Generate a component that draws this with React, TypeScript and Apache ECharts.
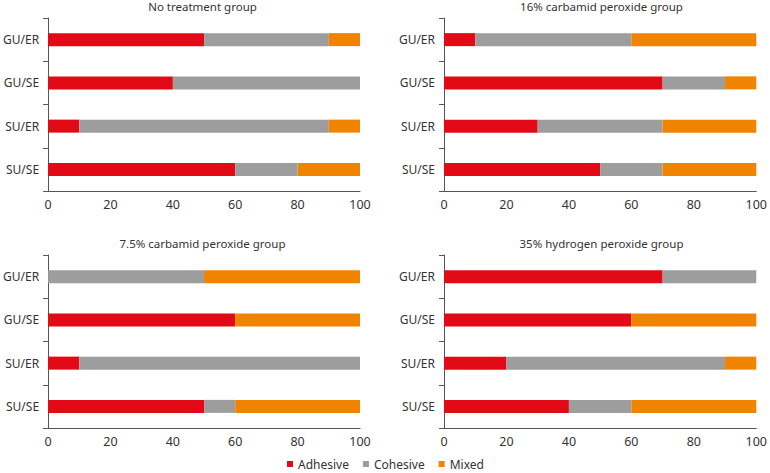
import React, { useEffect, useRef } from "react";
import * as echarts from "echarts";

const categories = ["GU/ER", "GU/SE", "SU/ER", "SU/SE"];
const panelTitles = [
  "No treatment group",
  "16% carbamid peroxide group",
  "7.5% carbamid peroxide group",
  "35% hydrogen peroxide group",
];
const seriesNames = ["Adhesive", "Cohesive", "Mixed"];
const colors = ["#E30A17", "#9D9D9D", "#F08300"];

// values per panel, per series, per category (GU/ER, GU/SE, SU/ER, SU/SE)
const noTreatmentAdhesive = [50, 40, 10, 60];
const noTreatmentCohesive = [40, 60, 80, 20];
const noTreatmentMixed = [10, 0, 10, 20];

const cp16Adhesive = [10, 70, 30, 50];
const cp16Cohesive = [50, 20, 40, 20];
const cp16Mixed = [40, 10, 30, 30];

const cp75Adhesive = [0, 60, 10, 50];
const cp75Cohesive = [50, 0, 90, 10];
const cp75Mixed = [50, 40, 0, 40];

const hp35Adhesive = [70, 60, 20, 40];
const hp35Cohesive = [30, 0, 70, 20];
const hp35Mixed = [0, 40, 10, 40];

const xTicks = [0, 20, 40, 60, 80, 100];

const panelData = [
  [noTreatmentAdhesive, noTreatmentCohesive, noTreatmentMixed],
  [cp16Adhesive, cp16Cohesive, cp16Mixed],
  [cp75Adhesive, cp75Cohesive, cp75Mixed],
  [hp35Adhesive, hp35Cohesive, hp35Mixed],
];

const FONT = "Noto Sans";
const TEXT = "#333333";
const AXIS = "#555555";

export default function App() {
  const ref = useRef<HTMLDivElement>(null);
  useEffect(() => {
    if (!ref.current) return;
    const chart = echarts.init(ref.current, undefined, { renderer: "svg" });
    const grids = [
      { left: 45, top: 18, width: 315, height: 173 },
      { left: 444, top: 18, width: 315, height: 173 },
      { left: 45, top: 255, width: 315, height: 173 },
      { left: 444, top: 255, width: 315, height: 173 },
    ];
    const titles = grids.map((g, i) => ({
      text: panelTitles[i],
      left: g.left + g.width / 2,
      top: g.top - 18,
      padding: 0,
      textAlign: "center",
      textStyle: { fontFamily: FONT, fontSize: 11.5, fontWeight: "normal", color: TEXT },
    }));
    const xAxes = grids.map((_, i) => ({
      type: "value",
      gridIndex: i,
      min: 0,
      max: 100,
      interval: 20,
      axisLine: { show: true, lineStyle: { color: AXIS, width: 1 } },
      axisTick: { show: false },
      splitLine: { show: false },
      axisLabel: {
        formatter: (v: number) => (xTicks.includes(v) ? String(v) : ""),
        fontFamily: FONT,
        fontSize: 12.5,
        color: TEXT,
        margin: 7,
      },
    }));
    const yAxes = grids.map((_, i) => ({
      type: "category",
      gridIndex: i,
      data: categories,
      inverse: true,
      axisLine: { show: true, lineStyle: { color: AXIS, width: 1 } },
      axisTick: { show: true, length: 5, lineStyle: { color: AXIS } },
      axisLabel: { fontFamily: FONT, fontSize: 12, color: TEXT, margin: 9 },
    }));
    const series: any[] = [];
    panelData.forEach((panel, p) => {
      panel.forEach((vals, s) => {
        series.push({
          type: "bar",
          name: seriesNames[s],
          stack: "p" + p,
          xAxisIndex: p,
          yAxisIndex: p,
          barWidth: 13,
          data: vals,
          itemStyle: { color: colors[s] },
          emphasis: { disabled: true },
        });
      });
    });
    chart.setOption({
      animation: false,
      backgroundColor: "#ffffff",
      color: colors,
      title: titles,
      grid: grids,
      xAxis: xAxes,
      yAxis: yAxes,
      legend: {
        data: seriesNames,
        top: 458,
        left: 287,
        padding: 0,
        icon: "rect",
        itemWidth: 6,
        itemHeight: 6,
        itemGap: 14,
        textStyle: { fontFamily: FONT, fontSize: 12, color: TEXT },
      },
      series,
    });
    return () => chart.dispose();
  }, []);
  return (
    <div
      ref={ref}
      style={{ position: "fixed", left: 0, top: 0, width: 770, height: 473 }}
    />
  );
}
